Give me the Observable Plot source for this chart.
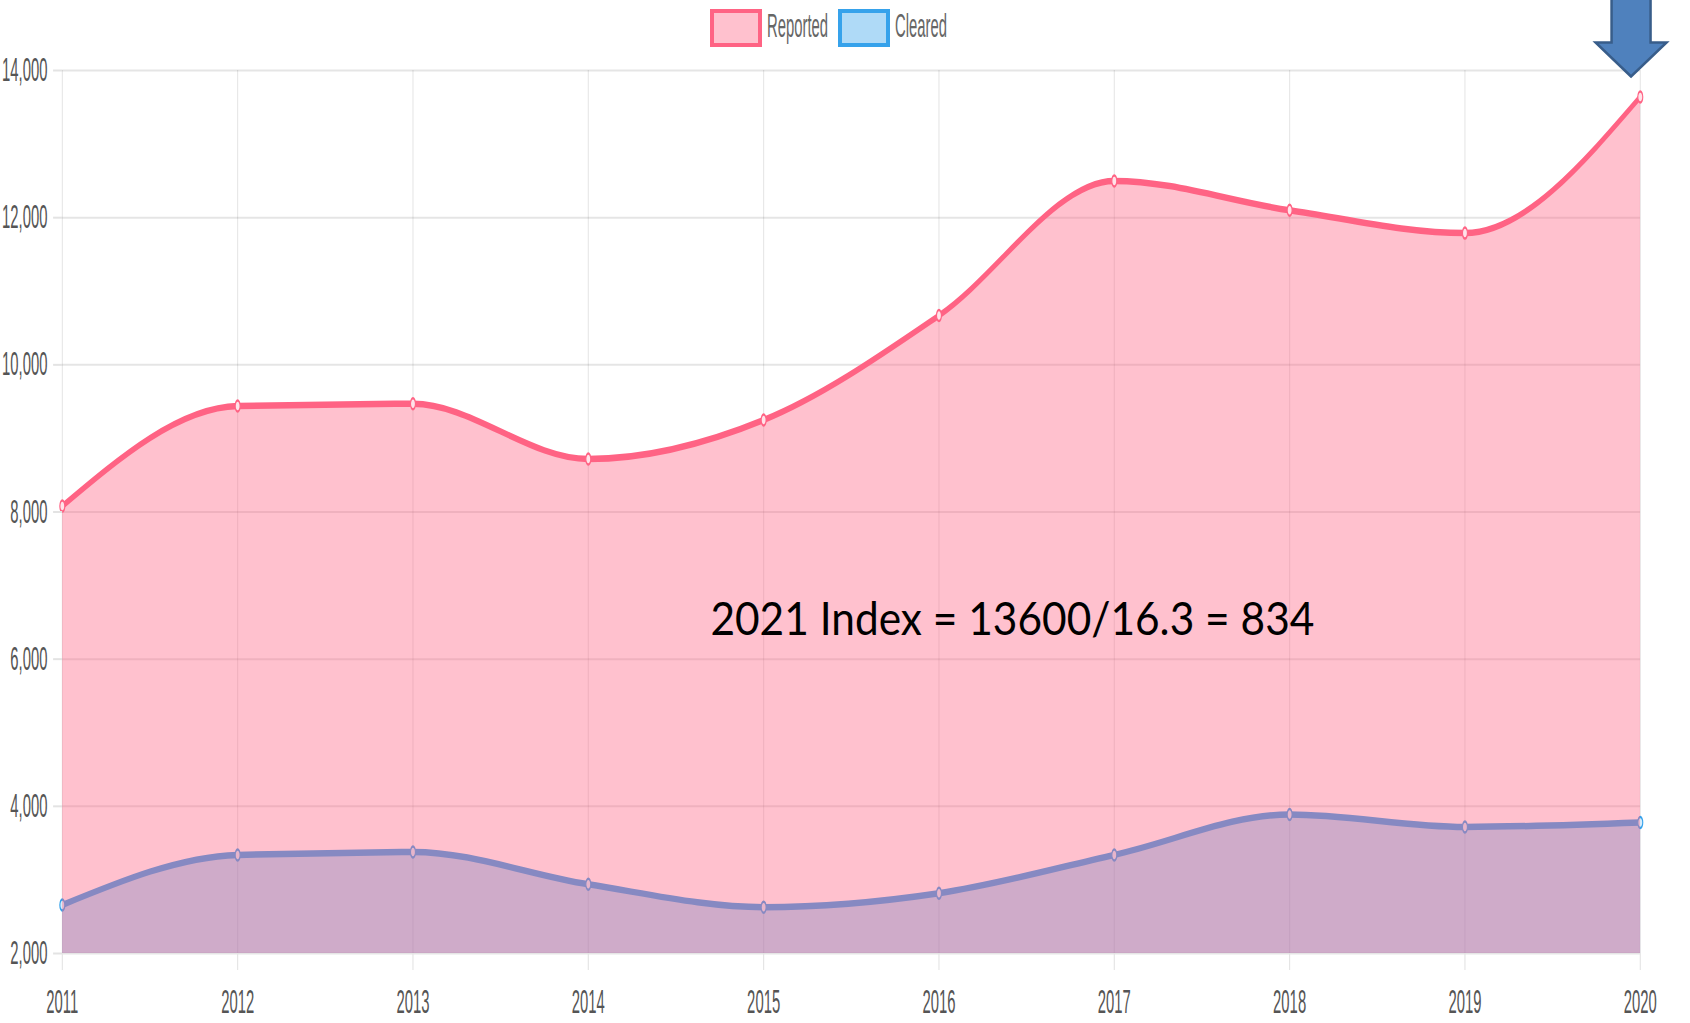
<!DOCTYPE html>
<html><head><meta charset="utf-8">
<script src="https://cdn.jsdelivr.net/npm/d3@7"></script>
<script src="https://cdn.jsdelivr.net/npm/@observablehq/plot@0.6"></script>
<style>
html,body{margin:0;padding:0;background:#fff;overflow:hidden;}
#page{position:relative;width:1690px;height:1023px;overflow:hidden;background:#fff;}
#squeeze{position:absolute;left:0;top:0;transform-origin:0 0;}
#overlay{position:absolute;left:0;top:0;pointer-events:none;}
</style></head><body>
<div id="page"><div id="squeeze"></div><svg id="overlay" width="1690" height="1023"></svg></div>
<script>
// ---- data ----
const years = [2011, 2012, 2013, 2014, 2015, 2016, 2017, 2018, 2019, 2020];
const reported = [8080, 9440, 9470, 8720, 9250, 10670, 12500, 12100, 11790, 13640];
const cleared = [2660, 3340, 3380, 2940, 2630, 2820, 3340, 3890, 3720, 3780];
const seriesNames = ["Reported", "Cleared"];
const yTicks = [2000, 4000, 6000, 8000, 10000, 12000, 14000];
const annotationText = "2021 Index = 13600/16.3 = 834";
const annotationAt = [2016.42, 6560];
const arrowYear = 2020;

// ---- layout (the original chart is horizontally squeezed) ----
const PAGE_W = 1690;
const SQUEEZE = 0.45;
const W = Math.round(PAGE_W / SQUEEZE);
const s = PAGE_W / W;
const LEGEND_H = 50;
const RED = "rgb(255,99,132)", BLUE = "rgb(54,162,235)";

const rows = years.map((year, i) => ({year, reported: reported[i], cleared: cleared[i]}));
const curve = "monotone-x";
const base = yTicks[0];

const squeeze = document.getElementById("squeeze");
squeeze.style.width = W + "px";
squeeze.style.transform = `scaleX(${s})`;

// legend
const legend = d3.create("svg").attr("width", W).attr("height", LEGEND_H).style("display", "block")
  .style("font-family", "'Liberation Sans', Arial, sans-serif");
const legendItems = [
  {name: seriesNames[0], stroke: RED, fill: "rgba(255,99,132,0.4)"},
  {name: seriesNames[1], stroke: BLUE, fill: "rgba(54,162,235,0.4)"}
];
let lx = 710 / s;
const boxW = 52 / s, boxTop = 9, boxH = 38, bw = 4;
for (const it of legendItems) {
  legend.append("rect").attr("x", lx).attr("y", boxTop).attr("width", boxW).attr("height", boxH).attr("fill", it.stroke);
  legend.append("rect").attr("x", lx + bw / s).attr("y", boxTop + bw).attr("width", boxW - 2 * bw / s).attr("height", boxH - 2 * bw).attr("fill", "#fff");
  legend.append("rect").attr("x", lx + bw / s).attr("y", boxTop + bw).attr("width", boxW - 2 * bw / s).attr("height", boxH - 2 * bw).attr("fill", it.fill);
  legend.append("text").attr("x", lx + boxW + 5 / s).attr("y", 37).attr("font-size", 33).attr("fill", "#666").text(it.name);
  lx += boxW + 5 / s + (it.name === seriesNames[0] ? 60 : 52) / s + 11 / s;
}
squeeze.appendChild(legend.node());

const chart = Plot.plot({
  width: W, height: 1023 - LEGEND_H,
  marginTop: 20, marginBottom: 70, marginLeft: Math.round(62 / s), marginRight: Math.round(50 / s),
  style: {fontFamily: "'Liberation Sans', Arial, sans-serif", fontSize: "33px", background: "transparent", overflow: "visible"},
  x: {domain: [years[0], years[years.length - 1]], label: null},
  y: {domain: [yTicks[0], yTicks[yTicks.length - 1]], label: null},
  marks: [
    Plot.gridY(yTicks, {stroke: "#000", strokeOpacity: 0.1, strokeWidth: 2}),
    Plot.gridX(years, {stroke: "#000", strokeOpacity: 0.1, strokeWidth: 2.4}),
    Plot.areaY(rows, {x: "year", y1: base, y2: "cleared", fill: BLUE, fillOpacity: 0.4, curve}),
    Plot.lineY(rows, {x: "year", y: "cleared", stroke: BLUE, strokeWidth: 6.5, curve}),
    Plot.dot(rows, {x: "year", y: "cleared", r: 5.5, fill: "#d7ecfb", stroke: BLUE, strokeWidth: 2.5}),
    Plot.areaY(rows, {x: "year", y1: base, y2: "reported", fill: RED, fillOpacity: 0.4, curve}),
    Plot.lineY(rows, {x: "year", y: "reported", stroke: RED, strokeWidth: 6.5, curve}),
    Plot.dot(rows, {x: "year", y: "reported", r: 5.5, fill: "#ffe3e9", stroke: RED, strokeWidth: 2.5}),
    Plot.axisY({ticks: yTicks, tickFormat: d3.format(","), tickSize: 20, tickPadding: 13, stroke: "#e3e3e3", strokeWidth: 2, fill: "#555", fontSize: 33, label: null}),
    Plot.axisX({ticks: years, tickFormat: d => String(d), tickSize: 17, tickPadding: 19, stroke: "#e3e3e3", strokeWidth: 2.4, fill: "#555", fontSize: 33, label: null})
  ]
});
chart.style.display = "block";
squeeze.appendChild(chart);

// overlay: annotation text and arrow (not squeezed)
const xs = chart.scale("x"), ys = chart.scale("y");
const px = v => xs.apply(v) * s;
const py = v => ys.apply(v) + LEGEND_H;
const overlay = d3.select("#overlay");
overlay.append("text")
  .attr("x", px(annotationAt[0])).attr("y", py(annotationAt[1]))
  .attr("text-anchor", "middle").attr("dominant-baseline", "central")
  .attr("font-family", "Lato, 'Open Sans', sans-serif").attr("font-size", 46)
  .attr("textLength", 604).attr("lengthAdjust", "spacingAndGlyphs")
  .attr("fill", "#000").text(annotationText);

const tx = px(arrowYear) - 9, ty = py(yTicks[yTicks.length - 1]) + 6.5;
const headHalf = 35.5, shaftHalf = 19.5, headH = 34, len = 82;
overlay.append("path")
  .attr("d", `M${tx},${ty} L${tx - headHalf},${ty - headH} L${tx - shaftHalf},${ty - headH} L${tx - shaftHalf},${ty - len} L${tx + shaftHalf},${ty - len} L${tx + shaftHalf},${ty - headH} L${tx + headHalf},${ty - headH} Z`)
  .attr("fill", "#4f81bd").attr("stroke", "#385d8a").attr("stroke-width", 2.5).attr("stroke-linejoin", "miter");
</script>
</body></html>
